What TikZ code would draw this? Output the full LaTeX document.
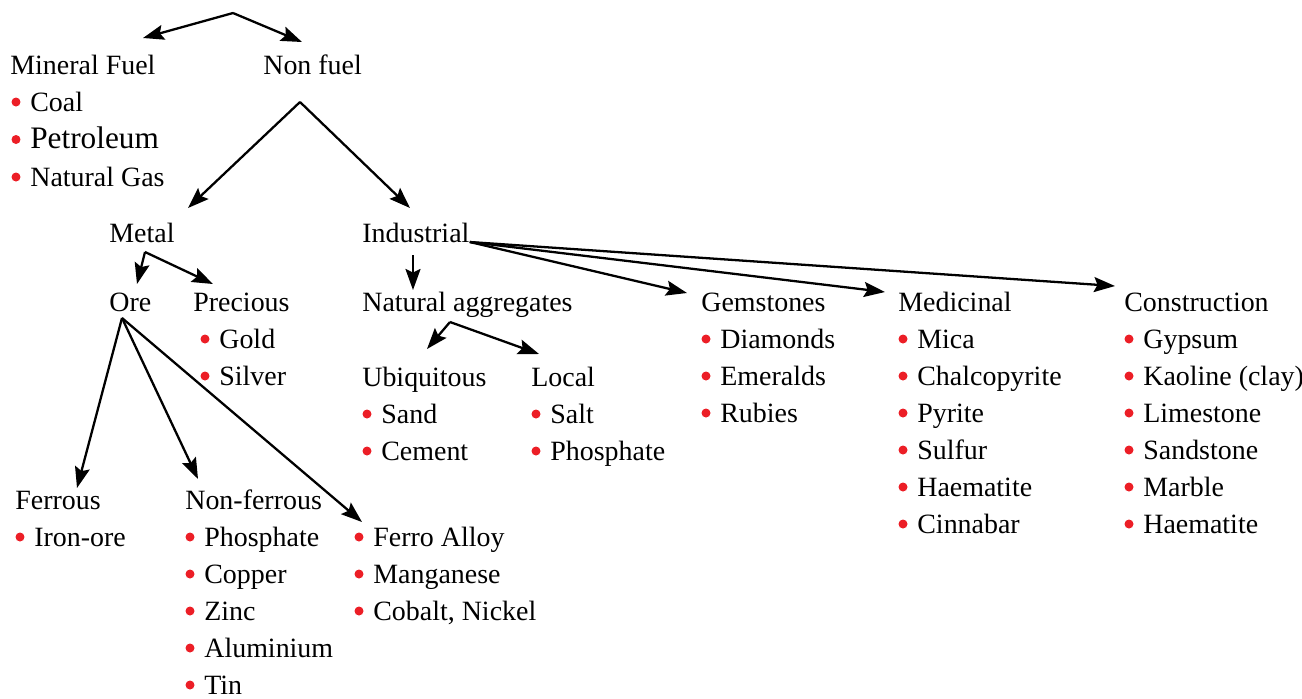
\documentclass[tikz,border=0pt]{standalone}
\usepackage{fontspec}
\setmainfont{Liberation Serif}
\usetikzlibrary{calc}
\usetikzlibrary{arrows.meta}

\definecolor{bulletred}{RGB}{236,30,38}
\tikzset{
    lbl/.style={anchor=base west, inner sep=0pt, font=\fontsize{15.9}{18}\selectfont},
    arr/.style={line width=1.3pt, -{Stealth[length=4.2mm, width=3mm, inset=0.7mm]}},
}
\newcommand{\blist}[4]{%
    \foreach \t [count=\i] in {#4} {
        \node[lbl] (#1\i) at (#2, {#3+37*(\i-1)}) {\t};
        \fill[bulletred] ($(#1\i.base west)+(-14,-9)$) circle[radius=0.09cm];
    }%
}

\begin{document}
\begin{tikzpicture}[x=0.02cm, y=-0.02cm]
                \useasboundingbox (0, 0) rectangle (1302, 698);
                \node[lbl] (mfuel) at (10, 74) {Mineral Fuel};
                \node[lbl] (nonfuel) at (263, 74) {Non fuel};
                \node[lbl] (metal) at (109, 242) {Metal};
                \node[lbl] (industrial) at (362, 242) {Industrial};
                \node[lbl] (ore) at (109, 311) {Ore};
                \node[lbl] (precious) at (193, 311) {Precious};
                \node[lbl] (natagg) at (362, 311) {Natural aggregates};
                \node[lbl] (gems) at (701, 311) {Gemstones};
                \node[lbl] (medic) at (898, 311) {Medicinal};
                \node[lbl] (constr) at (1124, 311) {Construction};
                \node[lbl] (ubiq) at (362, 386) {Ubiquitous};
                \node[lbl] (local) at (531, 386) {Local};
                \node[lbl] (ferrous) at (15, 509) {Ferrous};
                \node[lbl] (nonferrous) at (185, 509) {Non-ferrous};

                \node[lbl] (mf1) at (30, 111) {Coal};
                \node[lbl, font=\fontsize{17.8}{20}\selectfont] (mf2) at (30, 148.5) {Petroleum};
                \node[lbl] (mf3) at (30, 186) {Natural Gas};
                \foreach \n in {mf1, mf2, mf3}
                    \fill[bulletred] ($(\n.base west)+(-14,-9)$) circle[radius=0.09cm];

                \blist{pr}{219}{348}{Gold, Silver}
                \blist{ub}{381}{423}{Sand, Cement}
                \blist{lo}{550}{423}{Salt, Phosphate}
                \blist{ge}{720}{348}{Diamonds, Emeralds, Rubies}
                \blist{me}{917}{348}{Mica, Chalcopyrite, Pyrite, Sulfur, Haematite, Cinnabar}
                \blist{co}{1143}{348}{Gypsum, Kaoline (clay), Limestone, Sandstone, Marble, Haematite}
                \blist{fe}{34}{546}{Iron-ore}
                \blist{nf}{204}{546}{Phosphate, Copper, Zinc, Aluminium, Tin}
                \blist{fa}{373}{546}{Ferro Alloy, Manganese, {Cobalt, Nickel}}

                \coordinate (top) at (233, 13);
                \coordinate (mfuel-in) at (143, 38);
                \coordinate (nonfuel-in) at (302, 42);
                \coordinate (nonfuel-out) at (300, 102);
                \coordinate (metal-in) at (188, 208);
                \coordinate (industrial-in) at (410, 208);
                \coordinate (metal-out) at (145, 252);
                \coordinate (ore-in) at (137, 284);
                \coordinate (precious-in) at (213, 284);
                \coordinate (industrial-out) at (413, 255);
                \coordinate (natagg-in) at (413, 290);
                \coordinate (gems-in) at (687, 293);
                \coordinate (medic-in) at (885, 292);
                \coordinate (constr-in) at (1115, 286);
                \coordinate (natagg-out) at (450, 322);
                \coordinate (ubiq-in) at (427, 349);
                \coordinate (local-in) at (539, 354);
                \coordinate (ore-out) at (122, 318);
                \coordinate (ferrous-in) at (77, 488);
                \coordinate (nonferrous-in) at (198, 479);
                \coordinate (fa-in) at (362, 522);

                \draw[arr] (top) -- (mfuel-in);
                \draw[arr] (top) -- (nonfuel-in);
                \draw[arr] (nonfuel-out) -- (metal-in);
                \draw[arr] (nonfuel-out) -- (industrial-in);
                \draw[arr] (metal-out) -- (ore-in);
                \draw[arr] (metal-out) -- (precious-in);
                \draw[arr] (industrial-out) -- (natagg-in);
                \draw[arr] (industrial.base east) -- (gems-in);
                \draw[arr] (industrial.base east) -- (medic-in);
                \draw[arr] (industrial.base east) -- (constr-in);
                \draw[arr] (natagg-out) -- (ubiq-in);
                \draw[arr] (natagg-out) -- (local-in);
                \draw[arr] (ore-out) -- (ferrous-in);
                \draw[arr] (ore-out) -- (nonferrous-in);
                \draw[arr] (ore-out) -- (fa-in);
            \end{tikzpicture}
\end{document}
